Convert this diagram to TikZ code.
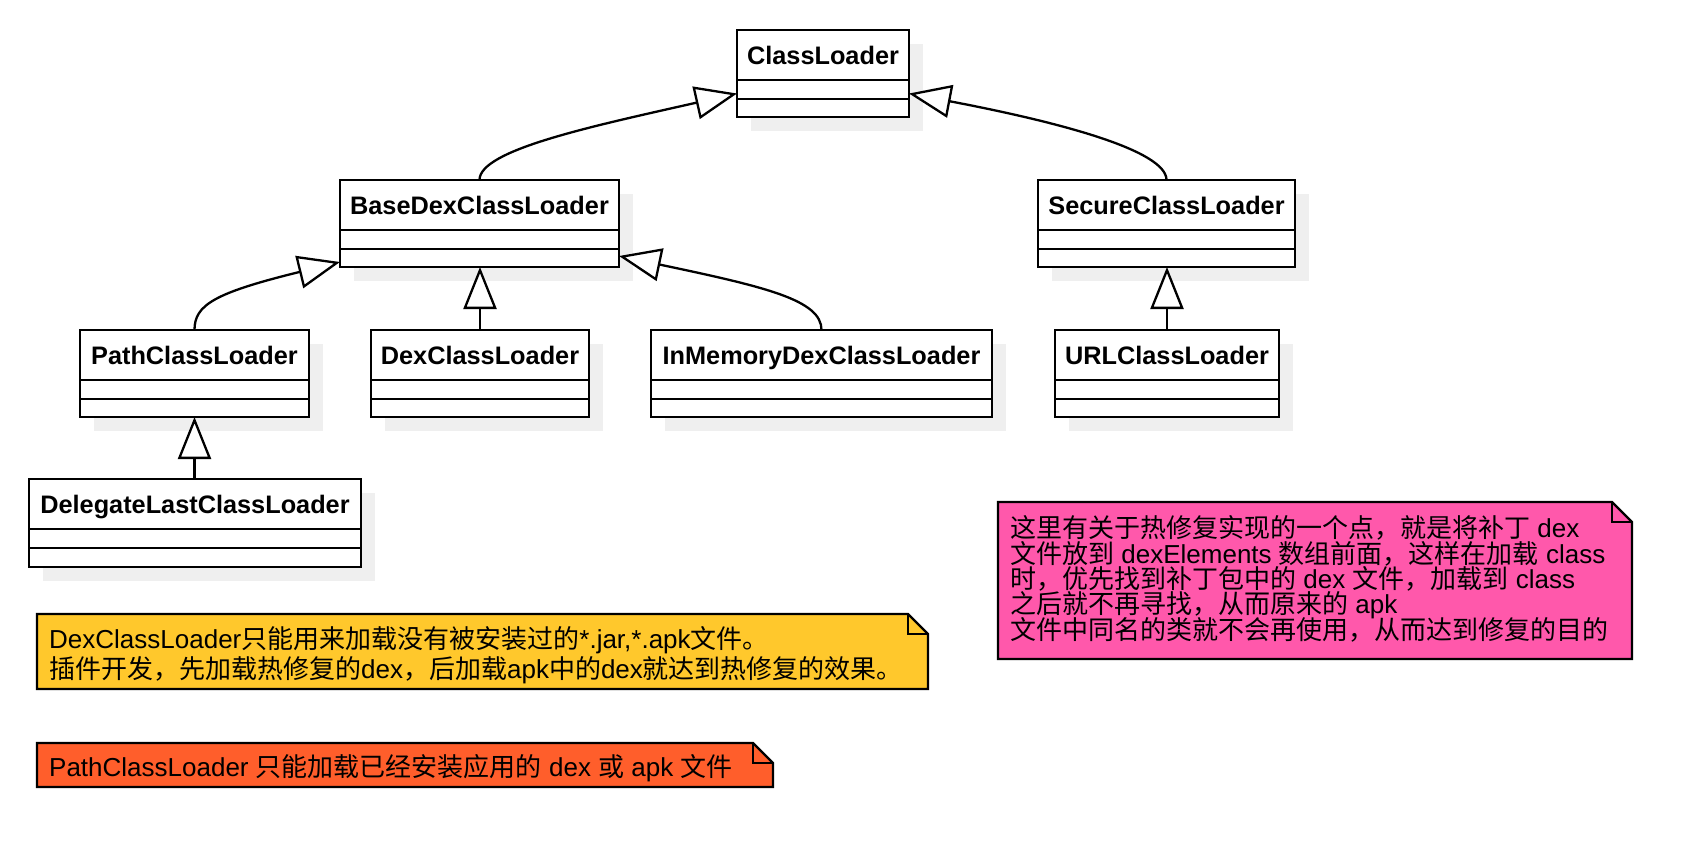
\documentclass[tikz,border=0pt]{standalone}
\usepackage{fontspec}
\setmainfont{Liberation Sans}
\newfontfamily\cjkfont{Noto Sans CJK SC}
\newcommand\zh[1]{{\cjkfont #1}}
\usetikzlibrary{arrows.meta,calc}
\lineskiplimit=-100pt
\definecolor{shadowgray}{HTML}{EFEFEF}
\definecolor{noteyellow}{HTML}{FFC82C}
\definecolor{noteorange}{HTML}{FF5E2B}
\definecolor{notepink}{HTML}{FF58AB}
\tikzset{
  classbox/.style={draw, line width=2.5pt, fill=white, inner sep=0pt, outer sep=0pt},
  classline/.style={line width=2.5pt},
  classtitle/.style={font=\fontsize{25.3}{30}\selectfont\bfseries, inner sep=0pt},
  shadowbox/.style={fill=shadowgray},
  inherit/.style={line width=2.3pt, -{Triangle[length=42pt, width=33pt, fill=white]}},
  notebox/.style={draw, line width=2.3pt, line join=miter},
  noteframe/.style={inner sep=0pt, outer sep=0pt},
  notetext/.style={inner sep=0pt, align=left, font=\fontsize{26}{#1}\selectfont},
}
% name, left, top, right, bottom, title
\newcommand\umlclass[6]{%
  \fill[shadowbox] ({#2+14},{#3+14}) rectangle ({#4+14},{#5+14});
  \node[classbox, anchor=north west, minimum width={(#4-#2)*1pt}, minimum height={(#5-#3)*1pt}] (#1) at (#2,#3) {};
  \draw[classline] ([yshift=-50pt]#1.north west) -- ([yshift=-50pt]#1.north east);
  \draw[classline] ([yshift=-69pt]#1.north west) -- ([yshift=-69pt]#1.north east);
  \node[classtitle, anchor=base] (#1-title) at ([yshift=-34.5pt]#1.north) {#6};
}
% name, left, top, right, bottom, colour
\newcommand\notebox[6]{%
  \node[noteframe, anchor=north west, minimum width={(#4-#2)*1pt}, minimum height={(#5-#3)*1pt}] (#1) at (#2,#3) {};
  \filldraw[notebox, fill=#6] (#1.north west) -- ([xshift=-20pt]#1.north east) -- ([yshift=-20pt]#1.north east)
     -- (#1.south east) -- (#1.south west) -- cycle;
  \draw[notebox] ([xshift=-20pt]#1.north east) -- ([xshift=-20pt,yshift=-20pt]#1.north east) -- ([yshift=-20pt]#1.north east);
}
\begin{document}
\begin{tikzpicture}[x=1pt, y=-1pt]
\useasboundingbox (0,0) rectangle (1704,860);
\fill[white] (0,0) rectangle (1704,860);

\umlclass{ClassLoader}{737}{30}{909}{117}{ClassLoader}
\umlclass{BaseDex}{340}{180}{619}{267}{BaseDexClassLoader}
\umlclass{Secure}{1038}{180}{1295}{267}{SecureClassLoader}
\umlclass{Path}{80}{330}{309}{417}{PathClassLoader}
\umlclass{Dex}{371}{330}{589}{417}{DexClassLoader}
\umlclass{InMemory}{651}{330}{992}{417}{InMemoryDexClassLoader}
\umlclass{URL}{1055}{330}{1279}{417}{URLClassLoader}
\umlclass{Delegate}{29}{479}{361}{567}{DelegateLastClassLoader}

% inheritance connectors
\draw[inherit] (BaseDex.north) .. controls +(0,-30) and +(-146,33) .. ([yshift=-20pt]ClassLoader.west);
\draw[inherit] (Secure.north) .. controls +(0,-30) and +(147,28) .. ([yshift=-20pt]ClassLoader.east);
\draw[inherit] (Path.north) .. controls +(0,-25) and +(-126,31) .. ([yshift=-38.5pt]BaseDex.west);
\draw[inherit] (InMemory.north) .. controls +(0,-30) and +(147,31) .. ([yshift=-32.5pt]BaseDex.east);
\draw[inherit] (Dex.north) -- (Dex.north |- BaseDex.south);
\draw[inherit] (URL.north) -- (URL.north |- Secure.south);
\draw[inherit] (Delegate.north -| Path.south) -- (Path.south);

% notes (node base = baseline of the last line)
\notebox{pinknote}{998}{502}{1632}{659}{notepink}
\node[notetext=25.3, anchor=base west] (pinktext) at (1010,639) {\zh{这里有关于热修复实现的一个点，就是将补丁} dex\\\zh{文件放到} dexElements \zh{数组前面，这样在加载} class\\\zh{时，优先找到补丁包中的} dex \zh{文件，加载到} class\\\zh{之后就不再寻找，从而原来的} apk\\\zh{文件中同名的类就不会再使用，从而达到修复的目的}};

\notebox{yellownote}{37}{614}{928}{689}{noteyellow}
\node[notetext=30, anchor=base west] (yellowtext) at (49,678) {DexClassLoader\zh{只能用来加载没有被安装过的}*.jar,*.apk\zh{文件。}\\\zh{插件开发，先加载热修复的}dex\zh{，后加载}apk\zh{中的}dex\zh{就达到热修复的效果。}};

\notebox{orangenote}{37}{743}{773}{787}{noteorange}
\node[notetext=30, anchor=base west] (orangetext) at (49,776) {PathClassLoader \zh{只能加载已经安装应用的} dex \zh{或} apk \zh{文件}};
\end{tikzpicture}
\end{document}
